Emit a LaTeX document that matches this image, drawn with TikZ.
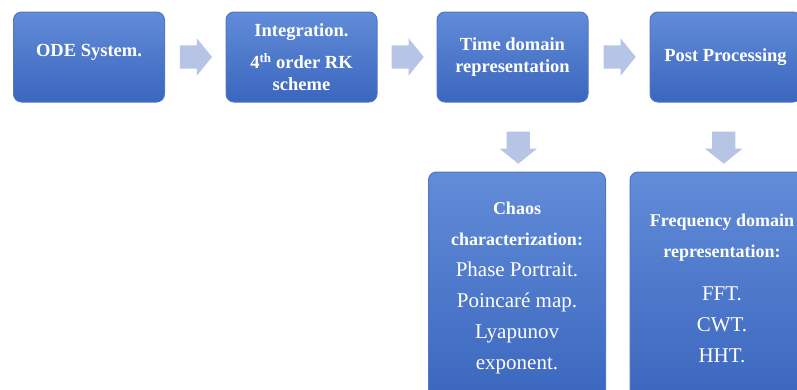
\documentclass[tikz,border=0pt]{standalone}
\usepackage{fontspec}
\setmainfont{Liberation Serif}
\usetikzlibrary{shapes.arrows,calc}

\definecolor{boxtop}{RGB}{98,140,216}
\definecolor{boxbot}{RGB}{58,102,190}
\definecolor{boxedge}{RGB}{80,118,200}
\definecolor{arrowfill}{RGB}{182,196,229}
\newcommand{\headfont}{\bfseries\fontsize{18}{31}\selectfont}

\begin{document}
\begin{tikzpicture}[x=1pt,y=-1pt,
   box/.style={rectangle, rounded corners=8pt, draw=boxedge, line width=1pt,
      top color=boxtop, bottom color=boxbot, text=white, align=center,
      inner sep=0pt},
   topbox/.style={box, minimum width=151pt, minimum height=90pt,
      font=\bfseries\fontsize{18.5}{22}\selectfont},
   lowbox/.style={box, minimum width=177pt, minimum height=232pt,
      font=\fontsize{21}{31}\selectfont},
   rarrow/.style={single arrow, fill=arrowfill, draw=none, inner xsep=0pt,
      inner ysep=11.5pt, minimum height=32pt, single arrow head extend=7pt,
      single arrow tip angle=102},
   darrow/.style={rarrow, inner xsep=11.5pt, inner ysep=0pt,
      shape border rotate=270}]
   \useasboundingbox (0,0) rectangle (797,389);
   \clip (0,0) rectangle (797,389);
   % top row
   \node[topbox] (ode)   at (89,57)    {\raisebox{1pt}[0pt][0pt]{ODE System.}};
   \node[topbox] (integ) at (301.5,57) {Integration.\\[10pt] 4\textsuperscript{th} order RK\\ scheme};
   \node[topbox] (time)  at (512.5,57) {Time domain\\ representation};
   \node[topbox] (post)  at (725.5,57) {Post Processing};
   % bottom row
   \node[lowbox] (chaos) at (517,288) {{\headfont Chaos}\\ {\headfont characterization:}\\
      Phase Portrait.\\ Poincar\'e map.\\ Lyapunov\\ exponent.};
   \node[lowbox, minimum width=184pt] (freq) at (722,288) {{\headfont Frequency domain}\\
      {\headfont representation:}\\[12pt] FFT.\\ CWT.\\ HHT.};
   % block arrows
   \node[rarrow] (a1) at ($(ode.east)!0.5!(integ.west)+(-4,0)$) {};
   \node[rarrow] (a2) at ($(integ.east)!0.5!(time.west)+(-4,0)$) {};
   \node[rarrow] (a3) at ($(time.east)!0.5!(post.west)+(-4,0)$) {};
   \node[darrow] (a4) at ($(time.south)!0.5!(chaos.north)+(3.5,6)$) {};
   \node[darrow] (a5) at ($(post.south)!0.5!(freq.north)+(0,6)$) {};
\end{tikzpicture}
\end{document}
